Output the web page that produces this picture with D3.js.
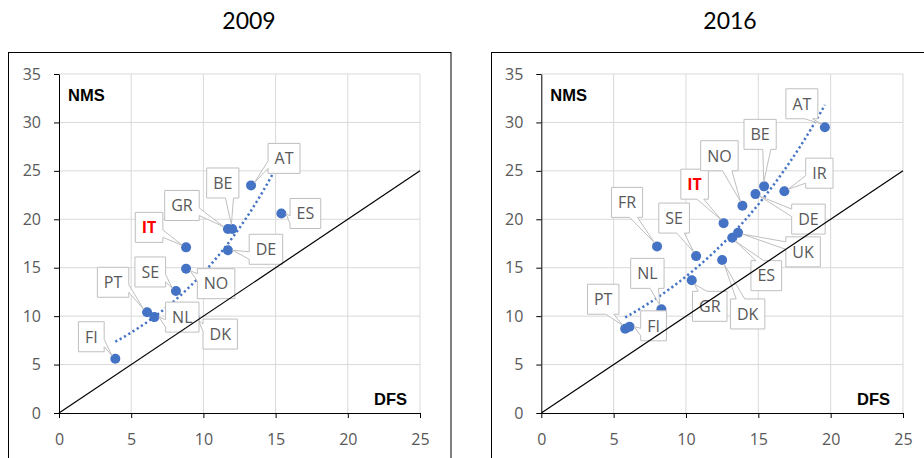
<!DOCTYPE html>
<html><head><meta charset="utf-8">
<script src="https://cdn.jsdelivr.net/npm/d3@7/dist/d3.min.js"></script>
<style>body{margin:0;background:#fff;overflow:hidden} svg{display:block}</style>
</head><body><svg id="c" width="924" height="458"></svg>
<script>
// ---- data ----
const countries2009 = ["FI","PT","NL","DK","SE","NO","IT","DE","GR","BE","AT","ES"];
const dfs2009 = [3.9,6.1,6.6,9.4,8.1,8.8,8.8,11.7,11.7,12.0,13.3,15.4];
const nms2009 = [5.6,10.4,9.9,9.8,12.6,14.9,17.1,16.8,19.0,19.0,23.5,20.6];
const countries2016 = ["PT","FI","NL","FR","GR","SE","DK","IT","ES","UK","NO","DE","BE","IR","AT"];
const dfs2016 = [5.8,6.1,8.3,8.0,10.4,10.7,12.5,12.6,13.2,13.6,13.9,14.8,15.4,16.8,19.6];
const nms2016 = [8.7,8.9,10.7,17.2,13.7,16.2,15.8,19.6,18.1,18.6,21.4,22.6,23.4,22.9,29.5];
const xTicks = [0,5,10,15,20,25];
const yTicks = [0,5,10,15,20,25,30,35];
const panelTitles = ["2009","2016"];
const xAxisName = "DFS", yAxisName = "NMS";
const highlighted = "IT";
const diagonal = [[0,0],[25,25]];

// ---- layout (label box offsets from point, px) ----
const labelOffsets2009 = {FI:[-24,-22],PT:[-34,-30],NL:[28,0],DK:[25.5,16],SE:[-25.7,-19],NO:[30,15],IT:[-37,-20],DE:[38,-1],GR:[-46,-23.5],BE:[-9.5,-46],AT:[33,-27],ES:[24,0]};
const labelOffsets2016 = {PT:[-22,-29.5],FI:[24,-1],NL:[-14,-36],FR:[-30,-44],GR:[18,26],SE:[-22,-38],DK:[25.5,54],IT:[-29,-39],ES:[34,38],UK:[65,19],NO:[-23,-50],DE:[53,25],BE:[-4,-52],IR:[35,-18],AT:[-23,-23.5]};

const panels = [
  {title:panelTitles[0], names:countries2009, xs:dfs2009, ys:nms2009, offs:labelOffsets2009,
   px0:59, px1:420, frame:[8.5,52.5,442.5,430], titleX:249},
  {title:panelTitles[1], names:countries2016, xs:dfs2016, ys:nms2016, offs:labelOffsets2016,
   px0:541.3, px1:903, frame:[491.5,52.5,460,430], titleX:730}
];
const PY0 = 413, PY1 = 74;
const BLUE = "#4472C4", GREY_TXT = "#595959", GRID = "#d9d9d9", BOX = "#bfbfbf";
const svg = d3.select("#c");

function expFit(xs, ys){
  const n = xs.length;
  const lx = d3.mean(xs), ly = d3.mean(ys.map(Math.log));
  let sxy=0, sxx=0;
  for(let i=0;i<n;i++){ sxy += (xs[i]-lx)*(Math.log(ys[i])-ly); sxx += (xs[i]-lx)**2; }
  const b = sxy/sxx, a = Math.exp(ly - b*lx);
  return x => a*Math.exp(b*x);
}

function calloutPath(L, T, w, h, px, py){
  const R=L+w, B=T+h, cx=L+w/2, cy=T+h/2;
  const dx=px-cx, dy=py-cy;
  if (Math.abs(dx)<=w/2 && Math.abs(dy)<=h/2) return `M${L},${T}H${R}V${B}H${L}Z`;
  let pts;
  const horiz = Math.abs(dx*h) > Math.abs(dy*w);
  if(!horiz && dy<0){
    const a = dx<0? L+w*2/12 : L+w*7/12, b = dx<0? L+w*5/12 : L+w*10/12;
    pts=[[L,T],[a,T],[px,py],[b,T],[R,T],[R,B],[L,B]];
  } else if(!horiz){
    const a = dx<0? L+w*5/12 : L+w*10/12, b = dx<0? L+w*2/12 : L+w*7/12;
    pts=[[L,T],[R,T],[R,B],[a,B],[px,py],[b,B],[L,B]];
  } else if(dx<0){
    const a = dy<0? T+h*5/12 : T+h*10/12, b = dy<0? T+h*2/12 : T+h*7/12;
    pts=[[L,T],[R,T],[R,B],[L,B],[L,a],[px,py],[L,b]];
  } else {
    const a = dy<0? T+h*2/12 : T+h*7/12, b = dy<0? T+h*5/12 : T+h*10/12;
    pts=[[L,T],[R,T],[R,a],[px,py],[R,b],[R,B],[L,B]];
  }
  return "M" + pts.map(p=>p.join(",")).join("L") + "Z";
}

panels.forEach(p => {
  const g = svg.append("g");
  const x = d3.scaleLinear().domain([0,25]).range([p.px0,p.px1]);
  const y = d3.scaleLinear().domain([0,35]).range([PY0,PY1]);

  g.append("rect").attr("x",p.frame[0]).attr("y",p.frame[1]).attr("width",p.frame[2]).attr("height",p.frame[3])
    .attr("fill","#fff").attr("stroke","#000").attr("stroke-width",1);
  g.append("text").attr("x",p.titleX).attr("y",29).attr("text-anchor","middle")
    .attr("font-family","Lato, 'Open Sans', sans-serif").attr("font-size",23).attr("fill","#000").text(p.title);

  // gridlines
  g.selectAll(".hg").data(yTicks.filter(v=>v>0)).join("line")
    .attr("x1",x(0)).attr("x2",x(25)).attr("y1",d=>y(d)).attr("y2",d=>y(d)).attr("stroke",GRID);
  g.selectAll(".vg").data(xTicks.filter(v=>v>0)).join("line")
    .attr("y1",y(0)).attr("y2",y(35)).attr("x1",d=>x(d)).attr("x2",d=>x(d)).attr("stroke",GRID);

  // axes
  const ax = g.append("g").attr("transform",`translate(0,${PY0})`)
    .call(d3.axisBottom(x).tickValues(xTicks).tickSize(5).tickSizeOuter(0));
  ax.selectAll("text").attr("y",32).attr("dy",null);
  const ay = g.append("g").attr("transform",`translate(${p.px0},0)`)
    .call(d3.axisLeft(y).tickValues(yTicks).tickSize(5).tickSizeOuter(0));
  ay.selectAll("text").attr("x",-18);
  [ax,ay].forEach(a=>{
    a.selectAll("path,line").attr("stroke","#000");
    a.selectAll("text").attr("fill",GREY_TXT).attr("font-family","'Open Sans', sans-serif").attr("font-size",16);
  });

  // trend
  const f = expFit(p.xs,p.ys);
  const [mn,mx] = d3.extent(p.xs);
  const tx = d3.range(0,41).map(i=>mn+(mx-mn)*i/40);
  g.append("path").attr("d",d3.line().x(d=>x(d)).y(d=>y(f(d)))(tx))
    .attr("fill","none").attr("stroke",BLUE).attr("stroke-width",2.5).attr("stroke-dasharray","2.2,2.8");

  // points
  g.selectAll(".pt").data(p.names).join("circle")
    .attr("cx",(d,i)=>x(p.xs[i])).attr("cy",(d,i)=>y(p.ys[i])).attr("r",5).attr("fill",BLUE);

  // callouts
  p.names.forEach((name,i)=>{
    const px = x(p.xs[i]), py = y(p.ys[i]);
    const [ox,oy] = p.offs[name];
    const cx = px+ox, cy = py+oy;
    const lg = g.append("g");
    const path = lg.append("path");
    const t = lg.append("text").attr("x",cx).attr("y",cy+5.8).attr("text-anchor","middle")
      .attr("font-family","'Open Sans', sans-serif").attr("font-size",16)
      .attr("font-weight", name===highlighted?"bold":"normal")
      .attr("fill", name===highlighted?"#FF0000":GREY_TXT).text(name);
    const w = t.node().getComputedTextLength()+13, h = 30;
    // wedge tip stops at marker edge
    const ddx = cx-px, ddy = cy-py, dist = Math.hypot(ddx,ddy);
    const tipx = px + ddx/dist*4.5, tipy = py + ddy/dist*4.5;
    path.attr("d",calloutPath(cx-w/2,cy-h/2,w,h,tipx,tipy))
      .attr("fill","#fff").attr("stroke",BOX).attr("stroke-width",1);
  });

  // diagonal
  g.append("line").attr("x1",x(diagonal[0][0])).attr("y1",y(diagonal[0][1]))
    .attr("x2",x(diagonal[1][0])).attr("y2",y(diagonal[1][1])).attr("stroke","#000").attr("stroke-width",1.2);

  // axis names
  g.append("text").attr("x",p.px0+9).attr("y",101).attr("font-family","'Liberation Sans', Arial, sans-serif")
    .attr("font-weight","bold").attr("font-size",16.5).attr("fill","#000").text(yAxisName);
  g.append("text").attr("x",x(25)-13).attr("y",405).attr("text-anchor","end").attr("font-family","'Liberation Sans', Arial, sans-serif")
    .attr("font-weight","bold").attr("font-size",16.5).attr("fill","#000").text(xAxisName);
});
</script></body></html>
